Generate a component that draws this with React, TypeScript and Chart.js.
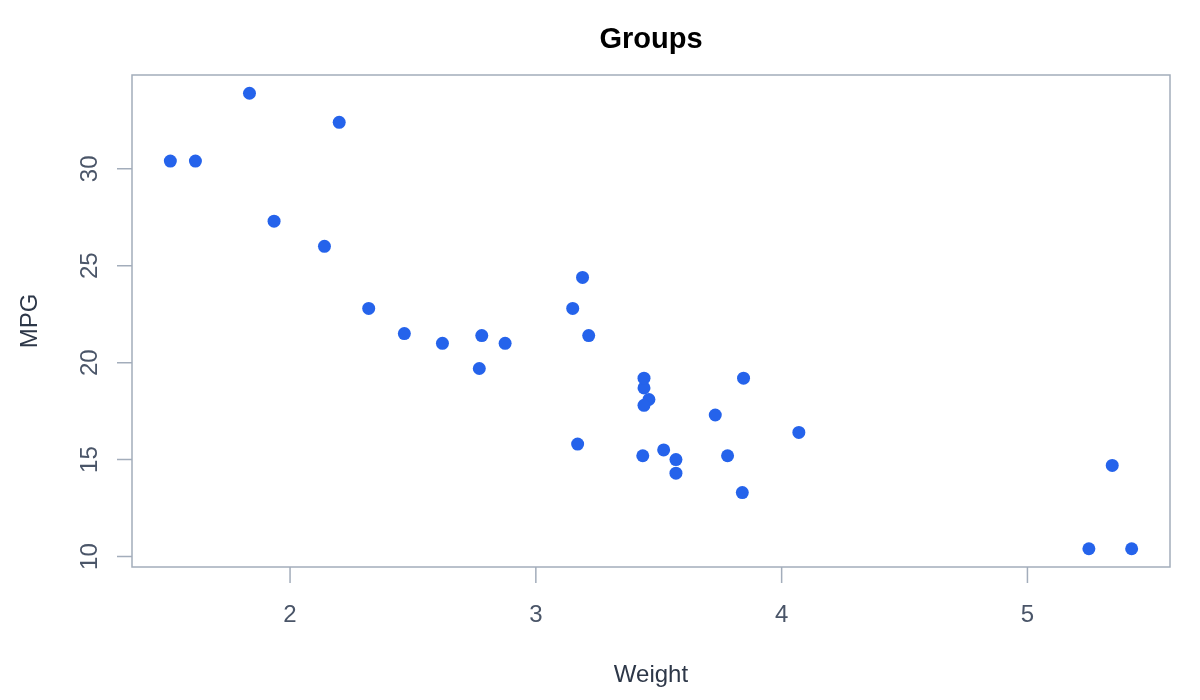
import React, { useEffect, useRef } from 'react';
import { Chart, ChartConfiguration, Plugin, registerables } from 'chart.js';

Chart.register(...registerables);

// mtcars: weight (1000 lbs) vs miles per gallon
const weights = [
  2.62, 2.875, 2.32, 3.215, 3.44, 3.46, 3.57, 3.19, 3.15, 3.44, 3.44, 4.07, 3.73, 3.78, 5.25, 5.424,
  5.345, 2.2, 1.615, 1.835, 2.465, 3.52, 3.435, 3.84, 3.845, 1.935, 2.14, 1.513, 3.17, 2.77, 3.57, 2.78,
];
const mpg = [
  21.0, 21.0, 22.8, 21.4, 18.7, 18.1, 14.3, 24.4, 22.8, 19.2, 17.8, 16.4, 17.3, 15.2, 10.4, 10.4,
  14.7, 32.4, 30.4, 33.9, 21.5, 15.5, 15.2, 13.3, 19.2, 27.3, 26.0, 30.4, 15.8, 19.7, 15.0, 21.4,
];
const xTicks = [2, 3, 4, 5];
const yTicks = [10, 15, 20, 25, 30];

const FONT = '"Liberation Sans", Arial, Helvetica, sans-serif';
const FRAME = '#a3adbb';
const TICK_TEXT = '#4a5568';
const LABEL_TEXT = '#2d3748';

const basePlot: Plugin<'scatter'> = {
  id: 'basePlot',
  afterDraw(chart) {
    const { ctx, chartArea: a } = chart;
    const xs = chart.scales.x;
    const ys = chart.scales.y;
    ctx.save();

    // box
    ctx.strokeStyle = FRAME;
    ctx.lineWidth = 1.5;
    ctx.strokeRect(a.left, a.top, a.right - a.left, a.bottom - a.top);

    // tick marks
    ctx.beginPath();
    xTicks.forEach((v) => {
      const px = xs.getPixelForValue(v);
      ctx.moveTo(px, a.bottom);
      ctx.lineTo(px, a.bottom + 16);
    });
    yTicks.forEach((v) => {
      const py = ys.getPixelForValue(v);
      ctx.moveTo(a.left, py);
      ctx.lineTo(a.left - 15, py);
    });
    ctx.stroke();

    // tick labels
    ctx.fillStyle = TICK_TEXT;
    ctx.font = `24px ${FONT}`;
    ctx.textAlign = 'center';
    ctx.textBaseline = 'alphabetic';
    xTicks.forEach((v) => {
      ctx.fillText(String(v), xs.getPixelForValue(v), 622);
    });
    yTicks.forEach((v) => {
      ctx.save();
      ctx.translate(97, ys.getPixelForValue(v));
      ctx.rotate(-Math.PI / 2);
      ctx.fillText(String(v), 0, 0);
      ctx.restore();
    });

    // axis titles
    ctx.fillStyle = LABEL_TEXT;
    ctx.fillText('Weight', (a.left + a.right) / 2, 682);
    ctx.save();
    ctx.translate(37, (a.top + a.bottom) / 2);
    ctx.rotate(-Math.PI / 2);
    ctx.fillText('MPG', 0, 0);
    ctx.restore();

    // main title
    ctx.fillStyle = '#000000';
    ctx.font = `bold 29px ${FONT}`;
    ctx.fillText('Groups', (a.left + a.right) / 2, 48);

    ctx.restore();
  },
};

export default function App() {
  const canvasRef = useRef<HTMLCanvasElement>(null);

  useEffect(() => {
    if (!canvasRef.current) return;
    document.body.style.margin = '0';

    const config: ChartConfiguration<'scatter'> = {
      type: 'scatter',
      data: {
        datasets: [
          {
            label: 'cars',
            data: weights.map((w, i) => ({ x: w, y: mpg[i] })),
            backgroundColor: '#2563eb',
            borderColor: '#2563eb',
            borderWidth: 0,
            pointRadius: 6.5,
            pointHoverRadius: 6.5,
          },
        ],
      },
      options: {
        responsive: false,
        animation: false,
        devicePixelRatio: 1,
        layout: { padding: { top: 75, right: 30, left: 0, bottom: 0 } },
        plugins: {
          legend: { display: false },
          title: { display: false },
          tooltip: { enabled: false },
        },
        scales: {
          x: {
            type: 'linear',
            min: 1.357,
            max: 5.58,
            grid: { display: false },
            border: { display: false },
            ticks: { display: false },
            afterFit: (s) => {
              s.height = 133;
            },
          },
          y: {
            type: 'linear',
            min: 9.46,
            max: 34.84,
            grid: { display: false },
            border: { display: false },
            ticks: { display: false },
            afterFit: (s) => {
              s.width = 132;
            },
          },
        },
      },
      plugins: [basePlot],
    };

    const chart = new Chart(canvasRef.current, config);
    return () => {
      chart.destroy();
    };
  }, []);

  return (
    <div style={{ position: 'absolute', left: 0, top: 0, width: 1200, height: 700, background: '#fff' }}>
      <canvas ref={canvasRef} width={1200} height={700} />
    </div>
  );
}
